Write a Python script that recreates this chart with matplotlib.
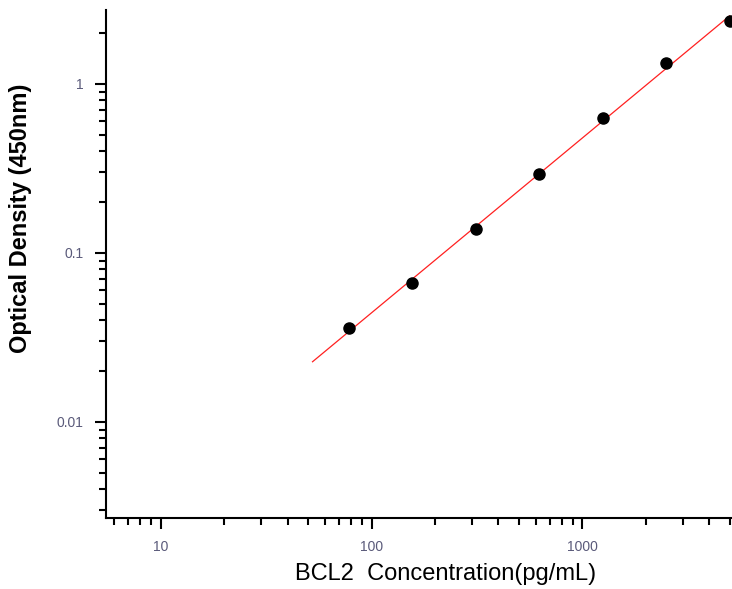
import numpy as np
import matplotlib
matplotlib.use('Agg')
import matplotlib.pyplot as plt
from matplotlib.ticker import LogLocator, FixedLocator, FixedFormatter, NullFormatter

# 标准曲线数据
conc = [78.125, 156.25, 312.5, 625, 1250, 2500, 5000]
od = [0.036, 0.066, 0.139, 0.293, 0.627, 1.34, 2.36]

# 拟合线范围
fit_start = 52.5
fit_end = 5000

plt.rcParams['font.family'] = ['Liberation Sans', 'DejaVu Sans']

fig = plt.figure(figsize=(7.32, 5.89), dpi=100)
ax = fig.add_axes([0.1448, 0.1205, 0.8552, 0.8625])

# 对数空间线性拟合
k, b = np.polyfit(np.log10(conc), np.log10(od), 1)
xf = np.logspace(np.log10(fit_start), np.log10(fit_end), 100)
yf = 10 ** (k * np.log10(xf) + b)
ax.plot(xf, yf, color='#ff2020', lw=0.9, zorder=2)
ax.plot(conc, od, 'o', color='black', ms=8, zorder=3, clip_on=False)

ax.set_xscale('log')
ax.set_yscale('log')
ax.set_xlim(5.5, 5130)
ax.set_ylim(0.0027, 2.74)

for s in ['top', 'right']:
    ax.spines[s].set_visible(False)
for s in ['left', 'bottom']:
    ax.spines[s].set_linewidth(1.5)

ax.xaxis.set_major_locator(FixedLocator([10, 100, 1000]))
ax.xaxis.set_major_formatter(FixedFormatter(['10', '100', '1000']))
ax.yaxis.set_major_locator(FixedLocator([0.01, 0.1, 1]))
ax.yaxis.set_major_formatter(FixedFormatter(['0.01', '0.1', '1']))
ax.xaxis.set_minor_locator(LogLocator(base=10, subs=np.arange(2, 10)))
ax.yaxis.set_minor_locator(LogLocator(base=10, subs=np.arange(2, 10)))
ax.xaxis.set_minor_formatter(NullFormatter())
ax.yaxis.set_minor_formatter(NullFormatter())

ax.tick_params(which='major', direction='out', length=8, width=1.5,
               labelsize=10, labelcolor='#5a5a7a', pad=8)
ax.tick_params(which='minor', direction='out', length=5, width=1.5)

ax.set_xlabel('BCL2  Concentration(pg/mL)', fontsize=17)
ax.xaxis.set_label_coords(0.542, -0.11)
ax.xaxis.label.set_va('center')
ax.set_ylabel('Optical Density (450nm)', fontsize=17, fontweight='bold')
ax.yaxis.set_label_coords(-0.136, 0.59)
ax.yaxis.label.set_va('center')

plt.savefig('out.png', dpi=100)
plt.close()
